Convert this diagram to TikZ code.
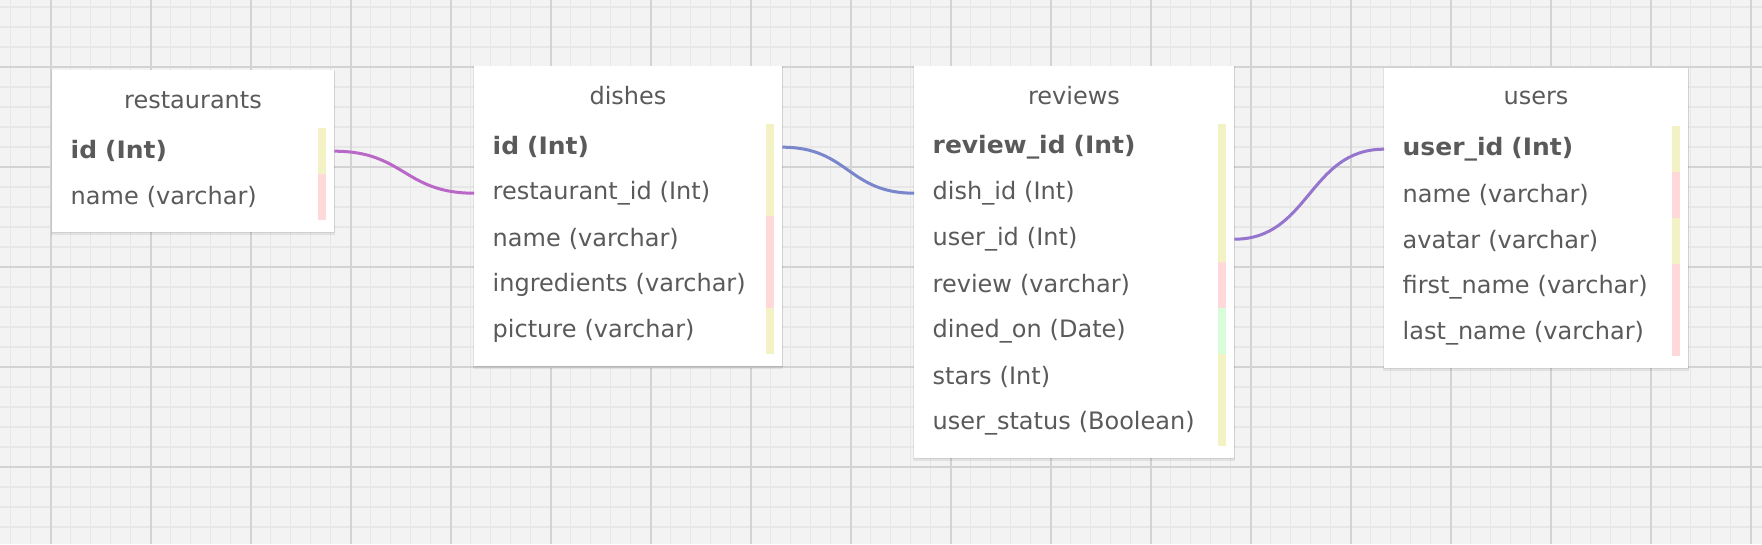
\documentclass[tikz,border=0pt]{standalone}
\usepackage{fontspec}
\setmainfont{DejaVu Sans}
\newfontfamily\keyfont{DejaVu Sans}[FakeStretch=1.04]
\definecolor{bg}{HTML}{F3F3F3}
\definecolor{minorc}{HTML}{E7E7E7}
\definecolor{majorc}{HTML}{D3D3D3}
\definecolor{txt}{HTML}{5A5A5A}
\definecolor{ybar}{HTML}{F3F2C4}
\definecolor{pbar}{HTML}{FFD9D9}
\definecolor{gbar}{HTML}{D7FDD9}
\definecolor{cA}{HTML}{BA68C8}
\definecolor{cB}{HTML}{7986CB}
\definecolor{cC}{HTML}{9575CD}
\begin{document}
\begin{tikzpicture}[x=1pt,y=-1pt,
  minorline/.style={draw=minorc, line width=1.6pt},
  majorline/.style={draw=majorc, line width=2pt},
  tablebox/.style={fill=white, draw=none, anchor=north west, inner sep=0pt},
  shadowbox/.style={fill=black, opacity=0.07},
  title/.style={font=\fontsize{24}{28}\selectfont, text=txt, inner sep=0pt},
  row/.style={anchor=north west, minimum height=46pt, inner xsep=18.5pt, inner ysep=0pt,
    align=left, font=\fontsize{24}{28}\selectfont, text=txt},
  key/.style={row, font=\keyfont\bfseries\fontsize{24}{28}\selectfont},
  conn/.style={line width=3pt},
  yb/.style={fill=ybar}, pb/.style={fill=pbar}, gb/.style={fill=gbar}
]
\useasboundingbox (0,0) rectangle (1762,544);
% background grid
\fill[bg] (0,0) rectangle (1762,544);
\foreach \i in {0,...,87} \draw[minorline] ({10.5+20*\i},0) -- ({10.5+20*\i},544);
\foreach \j in {0,...,26} \draw[minorline] (0,{6.7+20*\j}) -- (1762,{6.7+20*\j});
\foreach \i in {0,...,17} \draw[majorline] ({50.5+100*\i},0) -- ({50.5+100*\i},544);
\foreach \j in {0,...,4} \draw[majorline] (0,{66.7+100*\j}) -- (1762,{66.7+100*\j});

% ---------- restaurants ----------
\fill[shadowbox] (51,70) rectangle (335,234.5);
\fill[shadowbox] (51.5,70.5) rectangle (334.8,233);
\node[tablebox, minimum width=282pt, minimum height=162pt] (restaurants) at (52,70) {};
\node[title] (restaurants-title) at (193,100) {restaurants};
\node[key, text width=245pt] (restaurants-id) at (52,128) {id (Int)};
\node[row, text width=245pt] (restaurants-name) at (52,174) {name (varchar)};

% ---------- dishes ----------
\fill[shadowbox] (473,66) rectangle (783,368.5);
\fill[shadowbox] (473.5,66.5) rectangle (782.8,367);
\node[tablebox, minimum width=308pt, minimum height=300pt] (dishes) at (474,66) {};
\node[title] (dishes-title) at (628,96) {dishes};
\node[key, text width=271pt] (dishes-id) at (474,124) {id (Int)};
\node[row, text width=271pt] (dishes-restaurantid) at (474,170) {restaurant\_id (Int)};
\node[row, text width=271pt] (dishes-name) at (474,216) {name (varchar)};
\node[row, text width=271pt] (dishes-ingredients) at (474,262) {ingredients (varchar)};
\node[row, text width=271pt] (dishes-picture) at (474,308) {picture (varchar)};

% ---------- reviews ----------
\fill[shadowbox] (913,66) rectangle (1235,460.5);
\fill[shadowbox] (913.5,66.5) rectangle (1234.8,459);
\node[tablebox, minimum width=320pt, minimum height=392pt] (reviews) at (914,66) {};
\node[title] (reviews-title) at (1074,96) {reviews};
\node[key, text width=283pt] (reviews-reviewid) at (914,124) {review\_id (Int)};
\node[row, text width=283pt] (reviews-dishid) at (914,170) {dish\_id (Int)};
\node[row, text width=283pt] (reviews-userid) at (914,216) {user\_id (Int)};
\node[row, text width=283pt] (reviews-review) at (914,262) {review (varchar)};
\node[row, text width=283pt] (reviews-dinedon) at (914,308) {dined\_on (Date)};
\node[row, text width=283pt] (reviews-stars) at (914,354) {stars (Int)};
\node[row, text width=283pt] (reviews-userstatus) at (914,400) {user\_status (Boolean)};

% ---------- users ----------
\fill[shadowbox] (1383,68) rectangle (1689,370.5);
\fill[shadowbox] (1383.5,68.5) rectangle (1688.8,369);
\node[tablebox, minimum width=304pt, minimum height=300pt] (users) at (1384,68) {};
\node[title] (users-title) at (1536,98) {users};
\node[key, text width=267pt] (users-userid) at (1384,126) {user\_id (Int)};
\node[row, text width=267pt] (users-name) at (1384,172) {name (varchar)};
\node[row, text width=267pt] (users-avatar) at (1384,218) {avatar (varchar)};
\node[row, text width=267pt] (users-firstname) at (1384,264) {first\_name (varchar)};
\node[row, text width=267pt] (users-lastname) at (1384,310) {last\_name (varchar)};

% ---------- colour bars ----------
\foreach \n/\s in {restaurants-id/yb, restaurants-name/pb,
  dishes-id/yb, dishes-restaurantid/yb, dishes-name/pb, dishes-ingredients/pb, dishes-picture/yb,
  reviews-reviewid/yb, reviews-dishid/yb, reviews-userid/yb, reviews-review/pb, reviews-dinedon/gb,
  reviews-stars/yb, reviews-userstatus/yb,
  users-userid/yb, users-name/pb, users-avatar/yb, users-firstname/pb, users-lastname/pb}
  \fill[\s] ([xshift=-16pt]\n.north east) rectangle ([xshift=-8pt]\n.south east);

% ---------- connectors ----------
\draw[conn, draw=cA] (restaurants-id.east) .. controls +(70,0) and +(-70,0) .. (dishes-restaurantid.west);
\draw[conn, draw=cB] (dishes-id.east) .. controls +(66,0) and +(-66,0) .. (reviews-dishid.west);
\draw[conn, draw=cC] (reviews-userid.east) .. controls +(75,0) and +(-75,0) .. (users-userid.west);
\end{tikzpicture}
\end{document}
